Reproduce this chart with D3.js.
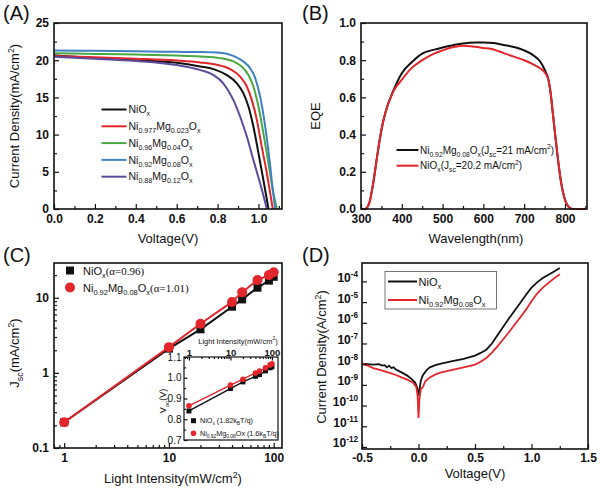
<!DOCTYPE html>
<html lang="en">
<head>
<meta charset="UTF-8">
<title>NiOx / NiMgOx device figure</title>
<script src="https://d3js.org/d3.v7.min.js"></script>
<style>
  body { margin: 0; background: #fff; }
  text { font-family: "Liberation Sans", Arial, sans-serif; fill: #111; }
</style>
</head>
<body>
<svg id="fig" width="600" height="492"></svg>
<script>
// ---------- (A) J-V data ----------
const jvLabels = ["NiO_{x}", "Ni_{0.977}Mg_{0.023}O_{x}", "Ni_{0.96}Mg_{0.04}O_{x}", "Ni_{0.92}Mg_{0.08}O_{x}", "Ni_{0.88}Mg_{0.12}O_{x}"];
const jvColors = ["#111111", "#e3262b", "#4aa843", "#3f80c5", "#5d4a9a"];
const vNiO   = [0, 0.2, 0.4, 0.6, 0.714, 0.780, 0.845, 0.894, 0.926, 0.951, 0.975, 1.000, 1.024, 1.049];
const jNiO   = [20.65, 20.3, 20.0, 19.65, 19.16, 18.8, 18.0, 16.9, 15.57, 13.77, 11.08, 7.5, 3.9, 0];
const vMg023 = [0, 0.2, 0.4, 0.6, 0.714, 0.796, 0.861, 0.910, 0.943, 0.967, 0.992, 1.016, 1.041, 1.060, 1.070];
const jMg023 = [20.55, 20.4, 20.2, 19.95, 19.7, 19.38, 18.8, 17.8, 16.46, 14.67, 11.98, 8.39, 4.8, 1.66, 0];
const vMg04  = [0, 0.2, 0.4, 0.6, 0.714, 0.812, 0.877, 0.918, 0.951, 0.975, 1.000, 1.024, 1.049, 1.070, 1.090];
const jMg04  = [20.95, 20.85, 20.75, 20.62, 20.5, 20.28, 19.83, 19.16, 18.0, 16.46, 13.77, 10.18, 6.15, 2.56, 0];
const vMg08  = [0, 0.2, 0.4, 0.6, 0.714, 0.812, 0.877, 0.926, 0.959, 0.984, 1.008, 1.033, 1.054, 1.070, 1.082];
const jMg08  = [21.3, 21.27, 21.2, 21.12, 21.09, 21.0, 20.59, 19.83, 18.93, 17.6, 15.12, 11.08, 6.6, 2.56, 0];
const vMg12  = [0, 0.2, 0.4, 0.6, 0.714, 0.780, 0.828, 0.877, 0.910, 0.943, 0.975, 1.008, 1.041];
const jMg12  = [20.45, 20.2, 19.9, 19.35, 18.7, 18.0, 16.9, 14.67, 12.43, 9.74, 6.6, 3.45, 0];

// ---------- (B) EQE data ----------
const wavelength = [300, 310, 320, 330, 340, 350, 360, 380, 400, 425, 450, 480, 500, 530, 550, 580, 600, 625, 650, 680, 700, 720, 740, 750, 760, 765, 770, 780, 790, 800, 810, 820, 850];
const eqeMg08 = [0, 0, 0.03, 0.14, 0.29, 0.425, 0.52, 0.64, 0.73, 0.79, 0.835, 0.857, 0.868, 0.883, 0.89, 0.895, 0.895, 0.892, 0.882, 0.868, 0.853, 0.83, 0.79, 0.75, 0.69, 0.62, 0.52, 0.32, 0.15, 0.05, 0.01, 0, 0];
const eqeNiO  = [0, 0, 0.03, 0.14, 0.29, 0.425, 0.52, 0.635, 0.695, 0.76, 0.80, 0.837, 0.853, 0.872, 0.878, 0.872, 0.866, 0.858, 0.838, 0.815, 0.80, 0.78, 0.755, 0.735, 0.69, 0.62, 0.52, 0.32, 0.15, 0.05, 0.01, 0, 0];

// ---------- (C) light intensity data ----------
const intensity = [1, 10, 20, 40, 50, 70, 90, 100];
const jscNiO  = [0.22, 2.1, 3.8, 7.6, 9.5, 13.6, 16.9, 19.0];
const jscMg08 = [0.22, 2.2, 4.5, 8.8, 11.8, 17.2, 20.0, 21.8];
const vocNiO  = [0.84, 0.948, 0.98, 1.007, 1.015, 1.033, 1.048, 1.053];
const vocMg08 = [0.865, 0.965, 0.993, 1.023, 1.032, 1.048, 1.062, 1.067];

// ---------- (D) dark J-V data ----------
const vDarkNiO = [-0.5, -0.45, -0.4, -0.35, -0.32, -0.3, -0.28, -0.26, -0.24, -0.22, -0.2, -0.15, -0.1, -0.06, -0.03, -0.01, 0, 0.01, 0.02, 0.04, 0.07, 0.1, 0.15, 0.2, 0.3, 0.4, 0.5, 0.55, 0.6, 0.65, 0.7, 0.75, 0.8, 0.85, 0.9, 0.95, 1.0, 1.05, 1.1, 1.15, 1.2, 1.25];
const jDarkNiO = [1.05e-8, 1.0e-8, 9.5e-9, 1.0e-8, 8.5e-9, 9e-9, 7e-9, 8.5e-9, 6.5e-9, 7e-9, 5.5e-9, 4e-9, 2.8e-9, 1.9e-9, 1.3e-9, 7e-10, 3e-10, 6e-10, 1.6e-9, 3e-9, 5e-9, 7e-9, 9e-9, 1.05e-8, 1.4e-8, 1.8e-8, 2.6e-8, 3.5e-8, 5e-8, 1.0e-7, 2.6e-7, 6.5e-7, 1.6e-6, 3.8e-6, 9e-6, 2.2e-5, 5e-5, 9e-5, 1.45e-4, 2.1e-4, 3e-4, 4.4e-4];
const vDarkMg08 = [-0.5, -0.45, -0.4, -0.35, -0.3, -0.25, -0.2, -0.15, -0.1, -0.05, -0.02, -0.008, 0, 0.008, 0.02, 0.04, 0.06, 0.1, 0.15, 0.2, 0.3, 0.4, 0.5, 0.55, 0.6, 0.65, 0.7, 0.75, 0.8, 0.85, 0.9, 0.95, 1.0, 1.05, 1.1, 1.15, 1.2, 1.25];
const jDarkMg08 = [1.1e-8, 8.5e-9, 6.5e-9, 5.5e-9, 4.5e-9, 3.7e-9, 3e-9, 2.3e-9, 1.8e-9, 1.3e-9, 8e-10, 3e-10, 2.5e-11, 2e-10, 6e-10, 8e-10, 1.5e-9, 2.3e-9, 3.2e-9, 4e-9, 5.3e-9, 7e-9, 9.5e-9, 1.3e-8, 2e-8, 3.6e-8, 7.5e-8, 1.6e-7, 3.5e-7, 8e-7, 1.8e-6, 4.2e-6, 1.1e-5, 2.6e-5, 5e-5, 8.5e-5, 1.4e-4, 2.2e-4];

const RED = "#e3262b";
const svg = d3.select("#fig");

// text with _{sub} and ^{sup} pieces; returns the baseline shift left over
function rich(sel, s, fs) {
  const re = /([_^])\{([^}]*)\}|([^_^]+)/g;
  let shift = 0, m;
  while ((m = re.exec(s))) {
    if (m[3]) {
      sel.append("tspan").attr("font-size", fs).attr("dy", -shift).text(m[3]);
      shift = 0;
    } else {
      const d = m[1] === "_" ? fs * 0.3 : -fs * 0.42;
      sel.append("tspan").attr("font-size", fs * 0.68).attr("dy", d - shift).text(m[2]);
      shift = d;
    }
  }
  return shift;
}

function label(x, y, s, fs, opts = {}) {
  const t = svg.append("text").attr("x", x).attr("y", y)
    .attr("text-anchor", opts.anchor || "start")
    .attr("font-weight", opts.bold ? "bold" : "normal");
  if (opts.rotate) t.attr("transform", `rotate(-90,${x},${y})`);
  rich(t, s, fs);
  return t;
}

// axes box with inward ticks
function frame(box, x, y, o) {
  const g = svg.append("g");
  const styleAxis = sel => {
    sel.select(".domain").remove();
    sel.selectAll("line").attr("stroke", "#111").attr("stroke-width", 1.2);
    sel.selectAll("text").attr("font-size", o.fs || 12).attr("font-weight", o.weight || "bold")
      .attr("font-family", '"Liberation Sans", Arial, sans-serif').attr("fill", "#111");
  };
  const xa = o.top ? d3.axisTop : d3.axisBottom;
  const yPos = o.top ? box.t : box.b;
  const tl = o.tick || 5;
  g.append("g").attr("transform", `translate(0,${yPos})`)
    .call(xa(x).tickValues(o.xMinor).tickSize(-tl * 0.6).tickSizeOuter(0).tickFormat(""))
    .call(styleAxis);
  g.append("g").attr("transform", `translate(0,${yPos})`)
    .call(xa(x).tickValues(o.xTicks).tickSize(-tl).tickSizeOuter(0).tickPadding(o.pad || 5).tickFormat(o.xFmt))
    .call(styleAxis);
  if (o.yMinor) {
    g.append("g").attr("transform", `translate(${box.l},0)`)
      .call(d3.axisLeft(y).tickValues(o.yMinor).tickSize(-tl * 0.6).tickSizeOuter(0).tickFormat(""))
      .call(styleAxis);
  }
  const ya = g.append("g").attr("transform", `translate(${box.l},0)`)
    .call(d3.axisLeft(y).tickValues(o.yTicks).tickSize(-tl).tickSizeOuter(0).tickPadding(o.pad || 5).tickFormat(o.yFmt || null))
    .call(styleAxis);
  g.append("rect").attr("x", box.l).attr("y", box.t)
    .attr("width", box.r - box.l).attr("height", box.b - box.t)
    .attr("fill", "none").attr("stroke", "#111").attr("stroke-width", o.sw || 1.6);
  return ya;
}

function logMinor(lo, hi) {
  const out = [];
  for (let e = Math.floor(Math.log10(lo)); e <= Math.ceil(Math.log10(hi)); e++)
    for (let k = 2; k <= 9; k++) { const v = k * Math.pow(10, e); if (v >= lo && v <= hi) out.push(v); }
  return out;
}

const range = (a, b, s) => d3.range(a, b + s / 2, s).map(v => +v.toFixed(3));

// ================= (A) =================
const boxA = { l: 54, r: 282, t: 23, b: 209 };
const xA = d3.scaleLinear().domain([0, 1.115]).range([boxA.l, boxA.r]);
const yA = d3.scaleLinear().domain([0, 25]).range([boxA.b, boxA.t]);
const jvV = [vNiO, vMg023, vMg04, vMg08, vMg12];
const jvJ = [jNiO, jMg023, jMg04, jMg08, jMg12];
const lineA = d3.line().x(d => xA(d[0])).y(d => yA(d[1])).curve(d3.curveMonotoneX);
jvV.forEach((vs, i) => {
  svg.append("path").datum(vs.map((v, k) => [v, jvJ[i][k]]))
    .attr("d", lineA).attr("fill", "none").attr("stroke", jvColors[i]).attr("stroke-width", 2);
});
frame(boxA, xA, yA, {
  xTicks: range(0, 1.0, 0.2), xMinor: range(0.1, 1.1, 0.2), xFmt: d => d.toFixed(1),
  yTicks: range(0, 25, 5), yMinor: range(2.5, 22.5, 5), yFmt: d3.format("d")
});
jvLabels.forEach((s, i) => {
  const yy = 109.5 + i * 16.8;
  svg.append("line").attr("x1", 101.5).attr("x2", 126.5).attr("y1", yy).attr("y2", yy)
    .attr("stroke", jvColors[i]).attr("stroke-width", 2);
  label(128.5, yy + 3.6, s, 10.5);
});
label(168, 243, "Voltage(V)", 13, { anchor: "middle" });
label(19, 116, "Current Density(mA/cm^{2})", 13, { anchor: "middle", rotate: true });
label(3, 20, "(A)", 20);

// ================= (B) =================
const boxB = { l: 361, r: 587, t: 23, b: 209 };
const xB = d3.scaleLinear().domain([300, 854]).range([boxB.l, boxB.r]);
const yB = d3.scaleLinear().domain([0, 1]).range([boxB.b, boxB.t]);
const lineB = d3.line().x(d => xB(d[0])).y(d => yB(d[1])).curve(d3.curveMonotoneX);
svg.append("path").datum(wavelength.map((w, k) => [w, eqeMg08[k]]))
  .attr("d", lineB).attr("fill", "none").attr("stroke", "#111").attr("stroke-width", 2);
svg.append("path").datum(wavelength.map((w, k) => [w, eqeNiO[k]]))
  .attr("d", lineB).attr("fill", "none").attr("stroke", RED).attr("stroke-width", 2);
frame(boxB, xB, yB, {
  xTicks: range(300, 800, 100), xMinor: range(350, 850, 100), xFmt: d3.format("d"),
  yTicks: range(0, 1, 0.2), yMinor: range(0.1, 0.9, 0.2), yFmt: d => d.toFixed(1)
});
[["Ni_{0.92}Mg_{0.08}O_{x}(J_{sc}=21 mA/cm^{2})", "#111"], ["NiO_{x}(J_{sc}=20.2 mA/cm^{2})", RED]].forEach((e, i) => {
  const yy = 150 + i * 15.7;
  svg.append("line").attr("x1", 396.5).attr("x2", 418.5).attr("y1", yy).attr("y2", yy)
    .attr("stroke", e[1]).attr("stroke-width", 2);
  label(420, yy + 3.5, e[0], 10);
});
label(476, 243, "Wavelength(nm)", 13, { anchor: "middle" });
label(320, 116, "EQE", 13, { anchor: "middle", rotate: true });
label(302, 20, "(B)", 20);

// ================= (C) =================
const boxC = { l: 54, r: 282, t: 263, b: 448 };
const xC = d3.scaleLog().domain([0.8, 120]).range([boxC.l, boxC.r]);
const yC = d3.scaleLog().domain([0.1, 29]).range([boxC.b, boxC.t]);
const lineC = d3.line().x(d => xC(d[0])).y(d => yC(d[1]));
svg.append("path").datum(intensity.map((v, k) => [v, jscNiO[k]]))
  .attr("d", lineC).attr("fill", "none").attr("stroke", "#111").attr("stroke-width", 2);
svg.selectAll(null).data(intensity.map((v, k) => [v, jscNiO[k]])).join("rect")
  .attr("x", d => xC(d[0]) - 4).attr("y", d => yC(d[1]) - 4).attr("width", 8).attr("height", 8).attr("fill", "#111");
svg.append("path").datum(intensity.map((v, k) => [v, jscMg08[k]]))
  .attr("d", lineC).attr("fill", "none").attr("stroke", RED).attr("stroke-width", 2);
svg.selectAll(null).data(intensity.map((v, k) => [v, jscMg08[k]])).join("circle")
  .attr("cx", d => xC(d[0])).attr("cy", d => yC(d[1])).attr("r", 5).attr("fill", RED);
frame(boxC, xC, yC, {
  xTicks: [1, 10, 100], xMinor: logMinor(0.8, 120), xFmt: d3.format("d"),
  yTicks: [0.1, 1, 10], yMinor: logMinor(0.1, 29), yFmt: d => String(d)
});
// legend
svg.append("rect").attr("x", 66).attr("y", 266.5).attr("width", 8).attr("height", 8).attr("fill", "#111");
svg.append("circle").attr("cx", 70).attr("cy", 287.5).attr("r", 5).attr("fill", RED);
{
  let t = svg.append("text").attr("x", 83).attr("y", 274.5);
  let sh = rich(t, "NiO_{x}", 11);
  t.append("tspan").attr("dy", -sh).attr("font-size", 11).attr("font-family", '"Liberation Serif", serif').text("(α=0.96)");
  t = svg.append("text").attr("x", 83).attr("y", 291.5);
  sh = rich(t, "Ni_{0.92}Mg_{0.08}O_{x}", 11);
  t.append("tspan").attr("dy", -sh).attr("font-size", 11).attr("font-family", '"Liberation Serif", serif').text("(α=1.01)");
}
label(173, 483, "Light Intensity(mW/cm^{2})", 13, { anchor: "middle" });
label(19, 353, "J_{sc}(mA/cm^{2})", 13, { anchor: "middle", rotate: true });
label(3, 262, "(C)", 20);

// inset Voc
const boxI = { l: 184, r: 278, t: 357, b: 440 };
svg.append("rect").attr("x", boxI.l).attr("y", boxI.t).attr("width", boxI.r - boxI.l).attr("height", boxI.b - boxI.t).attr("fill", "#fff");
const xI = d3.scaleLog().domain([0.76, 140]).range([boxI.l, boxI.r]);
const yI = d3.scaleLinear().domain([0.7, 1.1]).range([boxI.b, boxI.t]);
const lineI = d3.line().x(d => xI(d[0])).y(d => yI(d[1]));
svg.append("path").datum(intensity.map((v, k) => [v, vocNiO[k]]))
  .attr("d", lineI).attr("fill", "none").attr("stroke", "#111").attr("stroke-width", 1.4);
svg.selectAll(null).data(intensity.map((v, k) => [v, vocNiO[k]])).join("rect")
  .attr("x", d => xI(d[0]) - 2.5).attr("y", d => yI(d[1]) - 2.5).attr("width", 5).attr("height", 5).attr("fill", "#111");
svg.append("path").datum(intensity.map((v, k) => [v, vocMg08[k]]))
  .attr("d", lineI).attr("fill", "none").attr("stroke", RED).attr("stroke-width", 1.4);
svg.selectAll(null).data(intensity.map((v, k) => [v, vocMg08[k]])).join("circle")
  .attr("cx", d => xI(d[0])).attr("cy", d => yI(d[1])).attr("r", 2.8).attr("fill", RED);
frame(boxI, xI, yI, {
  top: true, tick: 3.5, pad: 1.5, fs: 9.5, sw: 1.2,
  xTicks: [1, 10, 100], xMinor: logMinor(0.76, 140), xFmt: d3.format("d"),
  yTicks: range(0.7, 1.1, 0.1), yMinor: range(0.75, 1.05, 0.1), yFmt: d => d.toFixed(1)
}).selectAll("text").attr("font-weight", "normal").attr("font-size", 10).attr("dx", -1);
svg.append("rect").attr("x", 191).attr("y", 418.2).attr("width", 5).attr("height", 5).attr("fill", "#111");
svg.append("circle").attr("cx", 193.5).attr("cy", 433.3).attr("r", 2.8).attr("fill", RED);
label(200, 423.3, "NiO_{x} (1.82k_{B}T/q)", 7.2);
label(200, 436, "Ni_{0.92}Mg_{0.08}Ox (1.6k_{B}T/q)", 7.2);
label(238, 343.5, "Light Intensity(mW/cm^{2})", 7.5, { anchor: "middle" });
label(166, 401, "V_{oc}(V)", 9, { anchor: "middle", rotate: true });

// ================= (D) =================
const boxD = { l: 362, r: 588, t: 263, b: 449 };
const xD = d3.scaleLinear().domain([-0.5, 1.5]).range([boxD.l, boxD.r]);
const yD = d3.scaleLog().domain([Math.pow(10, -12.1), Math.pow(10, -3.11)]).range([boxD.b, boxD.t]);
const lineD = d3.line().x(d => xD(d[0])).y(d => yD(d[1]));
svg.append("path").datum(vDarkNiO.map((v, k) => [v, jDarkNiO[k]]))
  .attr("d", lineD).attr("fill", "none").attr("stroke", "#111").attr("stroke-width", 1.8);
svg.append("path").datum(vDarkMg08.map((v, k) => [v, jDarkMg08[k]]))
  .attr("d", lineD).attr("fill", "none").attr("stroke", RED).attr("stroke-width", 1.8);
const decades = d3.range(-12, -3).map(e => Math.pow(10, e));
frame(boxD, xD, yD, {
  xTicks: range(-0.5, 1.5, 0.5), xMinor: range(-0.25, 1.25, 0.5), xFmt: d => d.toFixed(1), pad: 4,
  yTicks: decades, yFmt: () => ""
}).selectAll(".tick text").each(function (d) {
  const t = d3.select(this);
  rich(t, "10^{" + Math.round(Math.log10(d)) + "}", 12);
});
svg.append("rect").attr("x", 385).attr("y", 271.5).attr("width", 111.5).attr("height", 37.5)
  .attr("fill", "#fff").attr("stroke", "#555").attr("stroke-width", 0.8);
[["NiO_{x}", "#111"], ["Ni_{0.92}Mg_{0.08}O_{x}", RED]].forEach((e, i) => {
  const yy = 281.5 + i * 18.5;
  svg.append("line").attr("x1", 388).attr("x2", 417).attr("y1", yy).attr("y2", yy)
    .attr("stroke", e[1]).attr("stroke-width", 2);
  label(418.5, yy + 4, e[0], 11);
});
label(475, 478, "Voltage(V)", 13, { anchor: "middle" });
label(326, 357, "Current Density(A/cm^{2})", 13, { anchor: "middle", rotate: true });
label(302, 262, "(D)", 20);
</script>
</body>
</html>
